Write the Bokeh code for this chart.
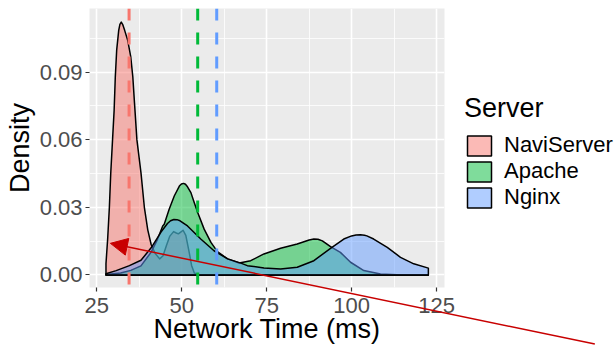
from bokeh.plotting import figure
from bokeh.layouts import column
from bokeh.models import (Range1d, FixedTicker, Span, Arrow, NormalHead,
                          Legend, LegendItem, Label)
from bokeh.embed import file_html
from bokeh.resources import INLINE

# ---------------- data ----------------
servers = ["NaviServer", "Apache", "Nginx"]
colors = ["#F8766D", "#00BA38", "#619CFF"]

navi_x = [27.7, 28.2, 28.7, 29.1, 29.6, 30.1, 30.45, 30.85, 31.45, 31.8, 32.2,
          32.6, 33.2, 34.1, 35.0, 35.6, 36.1, 36.8, 38.0, 39.0, 40.0, 41.0,
          42.2, 43.5, 44.5, 45.5, 46.5, 47.6, 48.4, 49.0, 49.7, 50.4,
          51.2, 52.2, 52.9, 53.7, 55.0, 60.0, 122.6]
navi_y = [0.005, 0.016, 0.030, 0.045, 0.059, 0.073, 0.088, 0.0997, 0.1085, 0.1112, 0.1122,
          0.1112, 0.1085, 0.1041, 0.0967, 0.0879, 0.0762, 0.060, 0.0454, 0.030, 0.020, 0.0135,
          0.0095, 0.0071, 0.0085, 0.013, 0.0172, 0.0192, 0.0186, 0.0182, 0.019, 0.0198,
          0.0175, 0.010, 0.0042, 0.0008, 0.0001, 0.0, 0.0]

apache_x = [27.7, 32.0, 35.0, 38.0, 41.0, 42.9, 44.4, 44.85, 46.3, 47.8,
            49.3, 49.9, 50.55, 51.1, 51.7, 52.7, 53.7, 54.7, 56.6, 58.6, 60.5, 63.5,
            66.9, 70.3, 74.2, 79.1, 84.0, 87.5, 88.9, 90.1, 91.4, 93.8, 96.7, 99.7,
            103.6, 108.5, 115.0, 122.6]
apache_y = [0.0002, 0.0008, 0.002, 0.004, 0.0101, 0.0159, 0.0217, 0.0225, 0.0291, 0.035,
            0.0394, 0.0403, 0.0406, 0.0402, 0.0391, 0.0365, 0.032, 0.0277, 0.0203, 0.0144,
            0.0103, 0.0071, 0.0053, 0.0063, 0.0093, 0.0118, 0.0137, 0.0155, 0.0159, 0.0158,
            0.0151, 0.0125, 0.010, 0.0056, 0.0019, 0.0004, 0.0, 0.0]

nginx_x = [27.7, 30.7, 34.6, 38.0, 41.0, 43.9, 45.8, 46.7, 47.7, 48.6, 49.5, 51.7,
           55.6, 59.5, 63.5, 67.4, 69.3, 74.2, 79.1, 84.0, 88.9, 93.8,
           97.7, 100.0, 101.3, 102.6, 103.8, 104.5, 106.5, 110.5, 114.4, 118.3, 122.6]
nginx_y = [0.0005, 0.0019, 0.0041, 0.0065, 0.012, 0.019, 0.0228, 0.0240, 0.0246, 0.0245,
           0.024, 0.0217, 0.0159, 0.0107, 0.0071, 0.0052, 0.0041, 0.0031, 0.0026, 0.0034,
           0.0063, 0.0118, 0.0159, 0.0173, 0.0177, 0.0178, 0.0176, 0.0173, 0.0159, 0.0122,
           0.0078, 0.0049, 0.003]

mean_values = [34.5, 54.7, 60.3]

x_ticks = [25, 50, 75, 100, 125]
x_minor = [37.5, 62.5, 87.5, 112.5]
y_ticks = [0.00, 0.03, 0.06, 0.09]
y_tick_labels = ["0.00", "0.03", "0.06", "0.09"]
y_minor = [0.015, 0.045, 0.075, 0.105]

x_title = "Network Time (ms)"
y_title = "Density"
legend_title = "Server"

arrow_tail = (171.6, -0.0307)
arrow_tip = (29.0, 0.014)

# ---------------- geometry ----------------
W, H = 614, 345
FL, FR, FT, FB = 89, 444, 8, 287          # frame edges in pixels
X0, X1 = 22.85, 127.35
Y0, Y1 = -0.0056, 0.1182
ppx = (FR - FL) / (X1 - X0)
ppy = (FB - FT) / (Y1 - Y0)
XTITLE_ROW = 328                          # pixel row where the x title is anchored

FONT = "Liberation Sans"

series = [(navi_x, navi_y), (apache_x, apache_y), (nginx_x, nginx_y)]


def closed(xs, ys):
    return list(xs) + [xs[-1], xs[0]], list(ys) + [0.0, 0.0]


# ---------------- main plot ----------------
p = figure(width=W, height=H, output_backend="svg", toolbar_location=None,
           x_range=Range1d(X0, X1), y_range=Range1d(Y0, Y1),
           min_border_left=FL, min_border_right=W - FR, min_border_top=FT,
           min_border_bottom=H - FB, frame_align=False)
p.background_fill_color = "#EBEBEB"
p.border_fill_color = "white"
p.outline_line_color = None

p.xaxis.ticker = FixedTicker(ticks=x_ticks, minor_ticks=x_minor)
p.yaxis.ticker = FixedTicker(ticks=y_ticks, minor_ticks=y_minor)
p.yaxis.major_label_overrides = {t: l for t, l in zip(y_ticks, y_tick_labels)}

for g in (p.xgrid, p.ygrid):
    g.grid_line_color = "white"
    g.grid_line_width = 1.6
    g.minor_grid_line_color = "white"
    g.minor_grid_line_width = 0.8

for ax in (p.xaxis, p.yaxis):
    ax.axis_line_color = None
    ax.major_tick_line_color = "#333333"
    ax.major_tick_line_width = 1.2
    ax.major_tick_out = 4
    ax.major_tick_in = 0
    ax.minor_tick_line_color = None
    ax.major_label_text_font = FONT
    ax.major_label_text_font_size = "22px"
    ax.major_label_text_color = "#4D4D4D"
    ax.major_label_text_line_height = 1.0
    ax.axis_label_text_font = FONT
    ax.axis_label_text_font_size = "27px"
    ax.axis_label_text_font_style = "normal"
    ax.axis_label_text_color = "black"
    ax.axis_label_text_line_height = 1.0

p.yaxis.axis_label = y_title
p.xaxis.major_label_standoff = 6
p.yaxis.major_label_standoff = 3
p.yaxis.axis_label_standoff = 2

for (xs, ys), c in zip(series, colors):
    px, py = closed(xs, ys)
    p.patch(px, py, fill_color=c, fill_alpha=0.5, line_color="black",
            line_width=1.5, line_join="round")

for m, c in zip(mean_values, colors):
    p.add_layout(Span(location=m, dimension="height", line_color=c,
                      line_width=3, line_dash="12 12"))

# ---------------- transparent overlay (x title, arrow, legend; unclipped) ----------------
p2 = figure(width=W, height=H, output_backend="svg", toolbar_location=None,
            x_axis_type=None, y_axis_type=None,
            x_range=Range1d(X0 - FL / ppx, X1 + (W - FR) / ppx),
            y_range=Range1d(Y0 - (H - FB) / ppy, Y1 + FT / ppy),
            min_border=0, margin=(-H, 0, 0, 0), frame_align=False)
p2.background_fill_color = None
p2.border_fill_color = None
p2.outline_line_color = None
p2.xgrid.visible = False
p2.ygrid.visible = False

p2.add_layout(Label(x=(X0 + X1) / 2, y=Y0 - (XTITLE_ROW - FB) / ppy,
                    text=x_title, text_align="center", text_baseline="alphabetic",
                    text_font=FONT, text_font_size="27px", text_color="black"))

p2.add_layout(Arrow(end=NormalHead(size=17, fill_color="#C80000", line_color="#C80000"),
                    x_start=arrow_tail[0], y_start=arrow_tail[1],
                    x_end=arrow_tip[0], y_end=arrow_tip[1],
                    line_color="#C80000", line_width=1.5))

key_renderers = []
for (xs, ys), c in zip(series, colors):
    px, py = closed(xs, ys)
    r = p2.patch(px, py, fill_color=c, fill_alpha=0.5, line_color="black",
                 line_width=1.5, visible=False)
    key_renderers.append(r)

legend = Legend(items=[LegendItem(label=s, renderers=[r])
                       for s, r in zip(servers, key_renderers)],
                title=legend_title, location=(464, 135))
legend.title_text_font = FONT
legend.title_text_font_size = "27px"
legend.title_text_font_style = "normal"
legend.title_text_color = "black"
legend.title_standoff = 8
legend.label_text_font = FONT
legend.label_text_font_size = "22px"
legend.label_text_color = "black"
legend.label_text_line_height = 1.0
legend.label_height = 20
legend.glyph_width = 30
legend.glyph_height = 25
legend.spacing = 0
legend.label_standoff = 10
legend.padding = 0
legend.margin = 0
legend.background_fill_alpha = 0
legend.border_line_color = None
p2.add_layout(legend)

layout = column(p, p2, spacing=0)
open("out.html", "w").write(file_html(layout, INLINE))
